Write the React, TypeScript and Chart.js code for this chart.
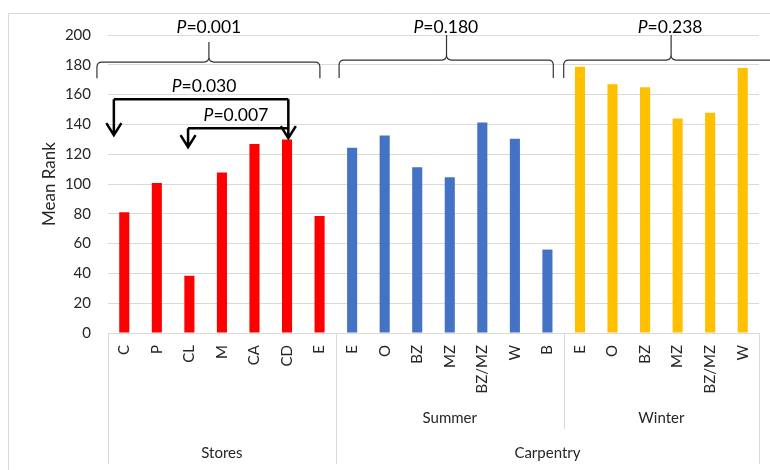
import React, { useEffect, useRef } from 'react';
import { Chart, registerables } from 'chart.js';

Chart.register(...registerables);

// ---- data ----
const storesLabels = ['C', 'P', 'CL', 'M', 'CA', 'CD', 'E'];
const storesValues = [81, 100.7, 38.4, 107.7, 126.9, 129.9, 78.5];
const summerLabels = ['E', 'O', 'BZ', 'MZ', 'BZ/MZ', 'W', 'B'];
const summerValues = [124.4, 132.5, 111.2, 104.5, 141.2, 130.4, 56];
const winterLabels = ['E', 'O', 'BZ', 'MZ', 'BZ/MZ', 'W'];
const winterValues = [178.7, 167, 165, 144, 147.8, 177.8];
const seasonLabels = ['Summer', 'Winter'];
const siteLabels = ['Stores', 'Carpentry'];
const pValues = ['0.001', '0.180', '0.238', '0.030', '0.007'];
const yTitle = 'Mean Rank';
const yMin = 0;
const yMax = 200;
const yStep = 20;

const colStores = '#FF0000';
const colSummer = '#4472C4';
const colWinter = '#FFC000';

const allLabels = [...storesLabels, ...summerLabels, ...winterLabels];
const allValues = [...storesValues, ...summerValues, ...winterValues];
const allColors = [
  ...storesLabels.map(() => colStores),
  ...summerLabels.map(() => colSummer),
  ...winterLabels.map(() => colWinter),
];

const FONT = 'Lato, "Open Sans", sans-serif';
const TEXT = '#262626';
const GRID = '#d9d9d9';

function drawP(ctx: CanvasRenderingContext2D, text: string, cx: number, cy: number) {
  const size = 17.5;
  ctx.font = `italic ${size}px ${FONT}`;
  const wP = ctx.measureText('P').width;
  ctx.font = `${size}px ${FONT}`;
  const rest = '=' + text;
  const wR = ctx.measureText(rest).width;
  const start = cx - (wP + wR) / 2;
  ctx.fillStyle = '#000';
  ctx.textBaseline = 'middle';
  ctx.textAlign = 'left';
  ctx.font = `italic ${size}px ${FONT}`;
  ctx.fillText('P', start, cy);
  ctx.font = `${size}px ${FONT}`;
  ctx.fillText(rest, start + wP, cy);
}

function drawBrace(
  ctx: CanvasRenderingContext2D,
  x1: number, x2: number, xm: number,
  yLine: number, yEnd: number, yTip: number
) {
  const r = 5;
  ctx.save();
  ctx.strokeStyle = '#333';
  ctx.lineWidth = 1.2;
  ctx.beginPath();
  ctx.moveTo(x1, yEnd);
  ctx.lineTo(x1, yLine + r);
  ctx.quadraticCurveTo(x1, yLine, x1 + r, yLine);
  ctx.lineTo(xm - r, yLine);
  ctx.quadraticCurveTo(xm, yLine, xm, yLine - r);
  ctx.lineTo(xm, yTip);
  ctx.moveTo(xm, yLine - r);
  ctx.quadraticCurveTo(xm, yLine, xm + r, yLine);
  ctx.lineTo(x2 - r, yLine);
  ctx.quadraticCurveTo(x2, yLine, x2, yLine + r);
  ctx.lineTo(x2, yEnd);
  ctx.stroke();
  ctx.restore();
}

function drawArrowDown(ctx: CanvasRenderingContext2D, x: number, yTop: number, yTip: number) {
  ctx.beginPath();
  ctx.moveTo(x, yTop);
  ctx.lineTo(x, yTip);
  ctx.moveTo(x - 7.5, yTip - 12);
  ctx.lineTo(x, yTip);
  ctx.lineTo(x + 7.5, yTip - 12);
  ctx.stroke();
}

const overlayPlugin = {
  id: 'overlay',
  afterDraw(chart: any) {
    const { ctx, chartArea } = chart;
    const xs = chart.scales.x;
    const ys = chart.scales.y;
    const px = (i: number) => xs.getPixelForValue(i);
    const py = (v: number) => ys.getPixelForValue(v);
    const W = chart.width;
    const H = chart.height;
    const bottom = chartArea.bottom;
    ctx.save();

    // outer border
    ctx.strokeStyle = GRID;
    ctx.lineWidth = 1;
    ctx.beginPath();
    ctx.moveTo(8.5, H);
    ctx.lineTo(8.5, 13.5);
    ctx.lineTo(W, 13.5);
    ctx.stroke();

    // category separators
    const sep = (i: number, len: number) => {
      const x = Math.round(px(i)) + 0.5;
      ctx.beginPath();
      ctx.moveTo(x, bottom);
      ctx.lineTo(x, bottom + len);
      ctx.stroke();
    };
    const nS = storesLabels.length;
    const nSu = summerLabels.length;
    const nW = winterLabels.length;
    sep(-0.5, 131);
    sep(nS - 0.5, 131);
    sep(nS + nSu - 0.5, 96);
    sep(nS + nSu + nW - 0.5, 131);

    // category labels
    ctx.fillStyle = TEXT;
    ctx.font = `15px ${FONT}`;
    allLabels.forEach((l, i) => {
      ctx.save();
      ctx.translate(px(i), bottom + 12);
      ctx.rotate(-Math.PI / 2);
      ctx.textAlign = 'right';
      ctx.textBaseline = 'middle';
      ctx.fillText(l, 0, 0);
      ctx.restore();
    });

    ctx.textAlign = 'center';
    ctx.textBaseline = 'middle';
    ctx.fillText(seasonLabels[0], (px(nS - 0.5) + px(nS + nSu - 0.5)) / 2, bottom + 85);
    ctx.fillText(seasonLabels[1], (px(nS + nSu - 0.5) + px(nS + nSu + nW - 0.5)) / 2, bottom + 85);
    ctx.fillText(siteLabels[0], (px(-0.5) + px(nS - 0.5)) / 2, bottom + 120);
    ctx.fillText(siteLabels[1], (px(nS - 0.5) + px(nS + nSu + nW - 0.5)) / 2, bottom + 120);

    // braces
    drawBrace(ctx, px(-0.84), px(6.01), px(2.6), py(181.8), py(171), py(195.3));
    drawP(ctx, pValues[0], px(2.6), py(205));
    drawBrace(ctx, px(6.6), px(13.18), px(9.9), py(183.2), py(171.1), py(200));
    drawP(ctx, pValues[1], px(9.88), py(205.4));
    drawBrace(ctx, px(13.5), px(20.1), px(16.8), py(183.2), py(171.1), py(200));
    drawP(ctx, pValues[2], px(16.77), py(205.4));

    // arrows
    ctx.strokeStyle = '#000';
    ctx.lineWidth = 2.5;
    ctx.lineCap = 'butt';
    ctx.lineJoin = 'miter';
    ctx.beginPath();
    ctx.moveTo(px(-0.32), py(156.9));
    ctx.lineTo(px(5.04), py(156.9));
    ctx.stroke();
    drawArrowDown(ctx, px(-0.32), py(156.9), py(132.8));
    drawArrowDown(ctx, px(5.04), py(156.9), py(130.8));
    ctx.beginPath();
    ctx.moveTo(px(1.96), py(137.5));
    ctx.lineTo(px(5.04), py(137.5));
    ctx.stroke();
    drawArrowDown(ctx, px(1.96), py(137.5), py(124.7));
    drawP(ctx, pValues[3], px(2.45), py(165.7));
    drawP(ctx, pValues[4], px(3.43), py(146.2));

    ctx.restore();
  },
};

export default function App() {
  const ref = useRef<HTMLCanvasElement | null>(null);
  useEffect(() => {
    if (!ref.current) return;
    const chart = new Chart(ref.current, {
      type: 'bar',
      data: {
        labels: allLabels,
        datasets: [
          {
            data: allValues,
            backgroundColor: allColors,
            borderWidth: 0,
            barPercentage: 0.31,
            categoryPercentage: 1,
          },
        ],
      },
      options: {
        responsive: false,
        animation: false,
        devicePixelRatio: 1,
        layout: { padding: { left: 8, top: 35, right: 11, bottom: 0 } },
        plugins: { legend: { display: false }, tooltip: { enabled: false } },
        scales: {
          x: {
            ticks: { display: false },
            grid: { display: false },
            border: { display: true, color: GRID, width: 1 },
            afterFit: (s: any) => { s.height = 137; },
          },
          y: {
            min: yMin,
            max: yMax,
            ticks: { stepSize: yStep, padding: 17, color: TEXT, font: { family: FONT, size: 15 } },
            grid: { color: GRID, drawTicks: false },
            border: { display: false },
            title: {
              display: true,
              text: yTitle,
              color: TEXT,
              font: { family: FONT, size: 17 },
              padding: { top: 31, bottom: 0 },
            },
            afterFit: (s: any) => { s.width = 100; },
          },
        },
      },
      plugins: [overlayPlugin],
    });
    return () => chart.destroy();
  }, []);
  return (
    <div style={{ position: 'fixed', left: 0, top: 0, width: 770, height: 470, background: '#fff' }}>
      <canvas ref={ref} width={770} height={470} style={{ display: 'block' }} />
    </div>
  );
}
